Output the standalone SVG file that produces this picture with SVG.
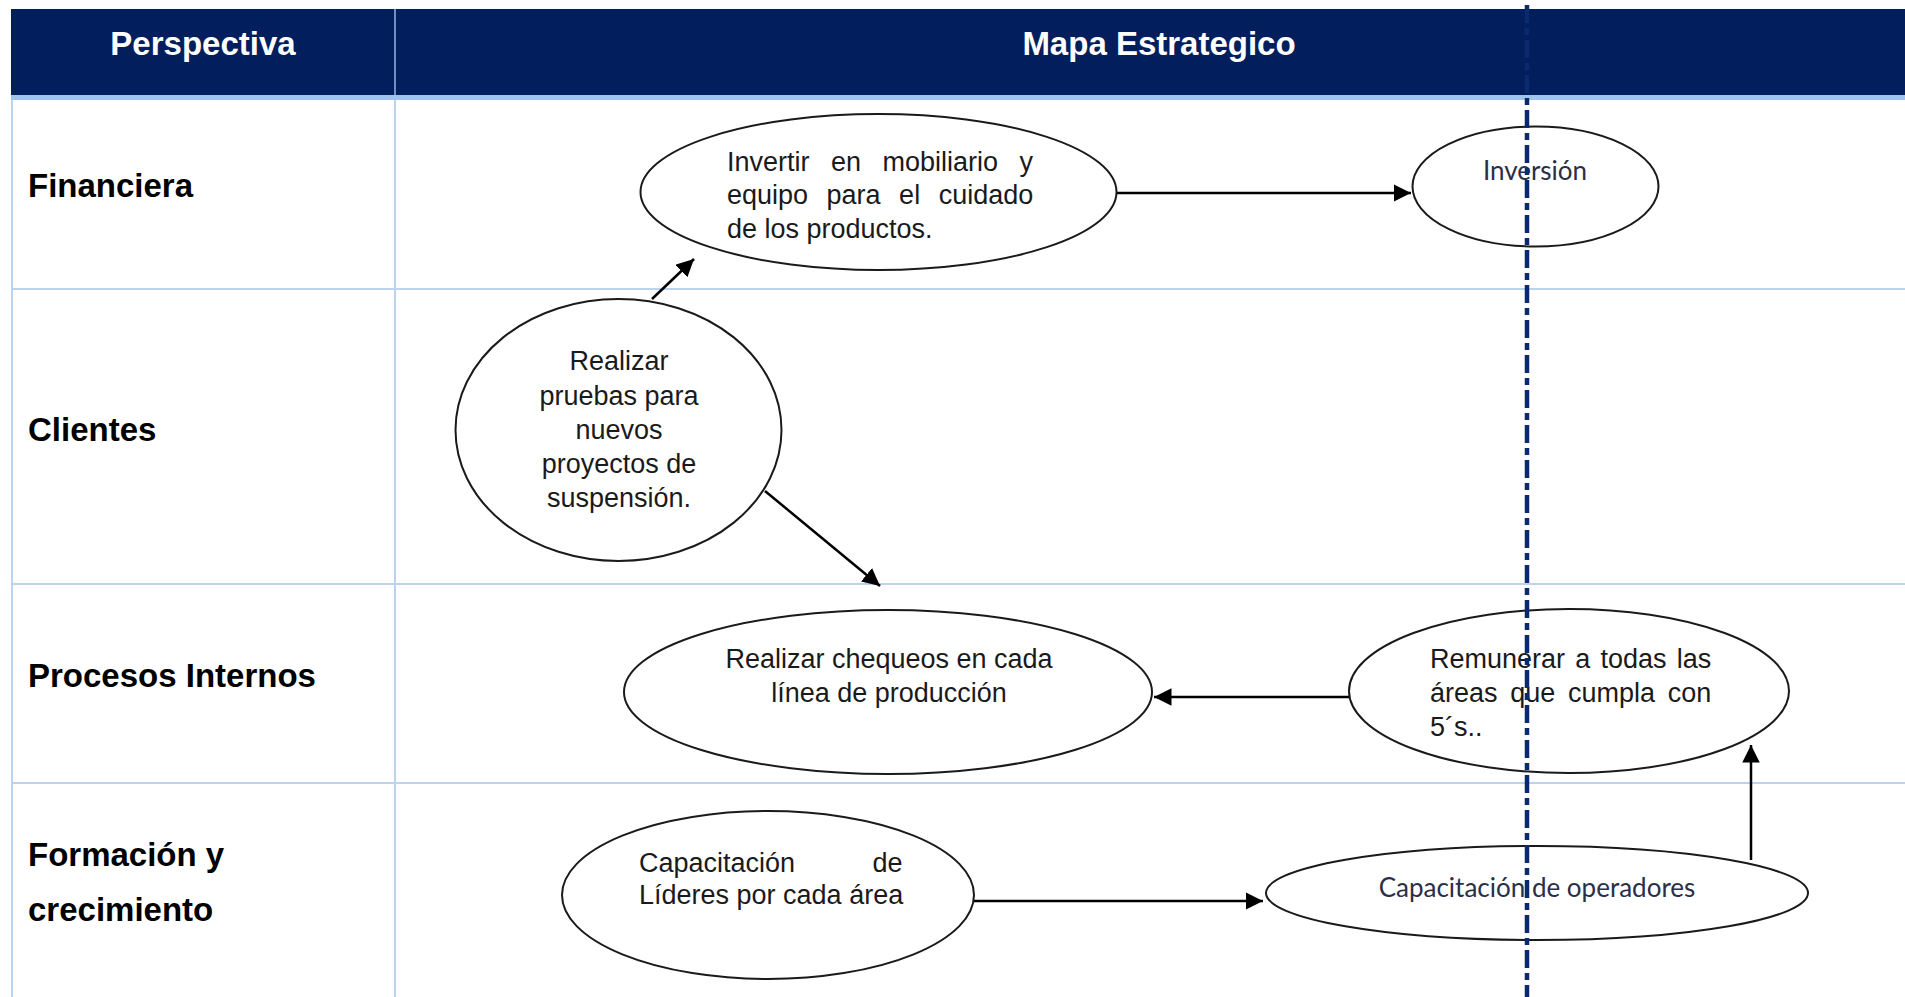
<svg xmlns="http://www.w3.org/2000/svg" width="1905" height="997" viewBox="0 0 1905 997">
<defs>
<marker id="ah" viewBox="0 0 10 10" refX="10" refY="5" markerWidth="7" markerHeight="7" markerUnits="strokeWidth" orient="auto">
<path d="M0,0 L10,5 L0,10 z" fill="#000"/>
</marker>
<style>
.grid{stroke:#bcd3ee;stroke-width:2;fill:none}
.hdr{font-family:"Liberation Sans",Arial,sans-serif;font-weight:bold;font-size:33px;fill:#fff}
.lbl{font-family:"Liberation Sans",Arial,sans-serif;font-weight:bold;font-size:33px;fill:#000}
.node{fill:#fff;stroke:#1a1a1a;stroke-width:2}
.t{font-family:"Liberation Sans",Arial,sans-serif;font-size:27px;fill:#1a1a1a}
.tc{font-family:Lato,"Noto Sans",sans-serif;font-size:26px;fill:#2a2f48}
.edge{stroke:#000;stroke-width:2.5;fill:none;marker-end:url(#ah)}
</style>
</defs>
<rect width="1905" height="997" fill="#fff"/>
<g id="table">
<rect x="11" y="9" width="1894" height="86" fill="#021e5c"/>
<line x1="11" y1="97.5" x2="1905" y2="97.5" stroke="#9fc3ea" stroke-width="5"/>
<line x1="395" y1="9" x2="395" y2="95" stroke="#6f8fc4" stroke-width="2"/>
<line class="grid" x1="12" y1="100" x2="12" y2="997"/>
<line class="grid" x1="395" y1="100" x2="395" y2="997"/>
<line class="grid" x1="12" y1="289" x2="1905" y2="289"/>
<line class="grid" x1="12" y1="584" x2="1905" y2="584"/>
<line class="grid" x1="12" y1="783" x2="1905" y2="783"/>
<text class="hdr" x="203" y="55" text-anchor="middle">Perspectiva</text>
<text class="hdr" x="1159" y="55" text-anchor="middle">Mapa Estrategico</text>
<text class="lbl" x="28" y="197">Financiera</text>
<text class="lbl" x="28" y="441">Clientes</text>
<text class="lbl" x="28" y="687">Procesos Internos</text>
<text class="lbl" x="28" y="866">Formación y</text>
<text class="lbl" x="28" y="921">crecimiento</text>
</g>
<g id="connectors">
<line class="edge" x1="1117" y1="193" x2="1411" y2="193"/>
<line class="edge" x1="652" y1="299" x2="694" y2="259"/>
<line class="edge" x1="765" y1="491" x2="880" y2="586"/>
<line class="edge" x1="1349" y1="697" x2="1154" y2="697"/>
<line class="edge" x1="974" y1="901" x2="1263" y2="901"/>
<line class="edge" x1="1751" y1="860" x2="1751" y2="745"/>
</g>
<g id="n1">
<ellipse class="node" cx="878.5" cy="192" rx="238" ry="78"/>
<text class="t" x="727" y="171" word-spacing="14">Invertir en mobiliario y</text>
<text class="t" x="727" y="204" word-spacing="11">equipo para el cuidado</text>
<text class="t" x="727" y="238">de los productos.</text>
</g>
<g id="n2">
<ellipse class="node" cx="1535.5" cy="186.5" rx="123" ry="60"/>
<text class="tc" x="1535" y="180" text-anchor="middle" font-size="27">Inversión</text>
</g>
<g id="n3">
<ellipse class="node" cx="618.5" cy="430" rx="163" ry="131"/>
<text class="t" x="619" y="370" text-anchor="middle">Realizar</text>
<text class="t" x="619" y="405" text-anchor="middle">pruebas para</text>
<text class="t" x="619" y="439" text-anchor="middle">nuevos</text>
<text class="t" x="619" y="473" text-anchor="middle">proyectos de</text>
<text class="t" x="619" y="507" text-anchor="middle">suspensión.</text>
</g>
<g id="n4">
<ellipse class="node" cx="888" cy="692" rx="264" ry="82"/>
<text class="t" x="889" y="668" text-anchor="middle">Realizar chequeos en cada</text>
<text class="t" x="889" y="702" text-anchor="middle">línea de producción</text>
</g>
<g id="n5">
<ellipse class="node" cx="1569" cy="691" rx="220" ry="82"/>
<text class="t" x="1430" y="668" word-spacing="2.7">Remunerar a todas las</text>
<text class="t" x="1430" y="702" word-spacing="5.2">áreas que cumpla con</text>
<text class="t" x="1430" y="736">5´s..</text>
</g>
<g id="n6">
<ellipse class="node" cx="768" cy="895" rx="206" ry="84"/>
<text class="t" x="639" y="872" word-spacing="70">Capacitación de</text>
<text class="t" x="639" y="904">Líderes por cada área</text>
</g>
<g id="n7">
<ellipse class="node" cx="1537" cy="893" rx="271" ry="47"/>
<text class="tc" x="1537" y="897" text-anchor="middle" font-size="25.6">Capacitación de operadores</text>
</g>
<line id="divider" x1="1527" y1="5" x2="1527" y2="997" stroke="#0a2a6e" stroke-width="4.5" stroke-dasharray="18 5 7 5"/>
</svg>
